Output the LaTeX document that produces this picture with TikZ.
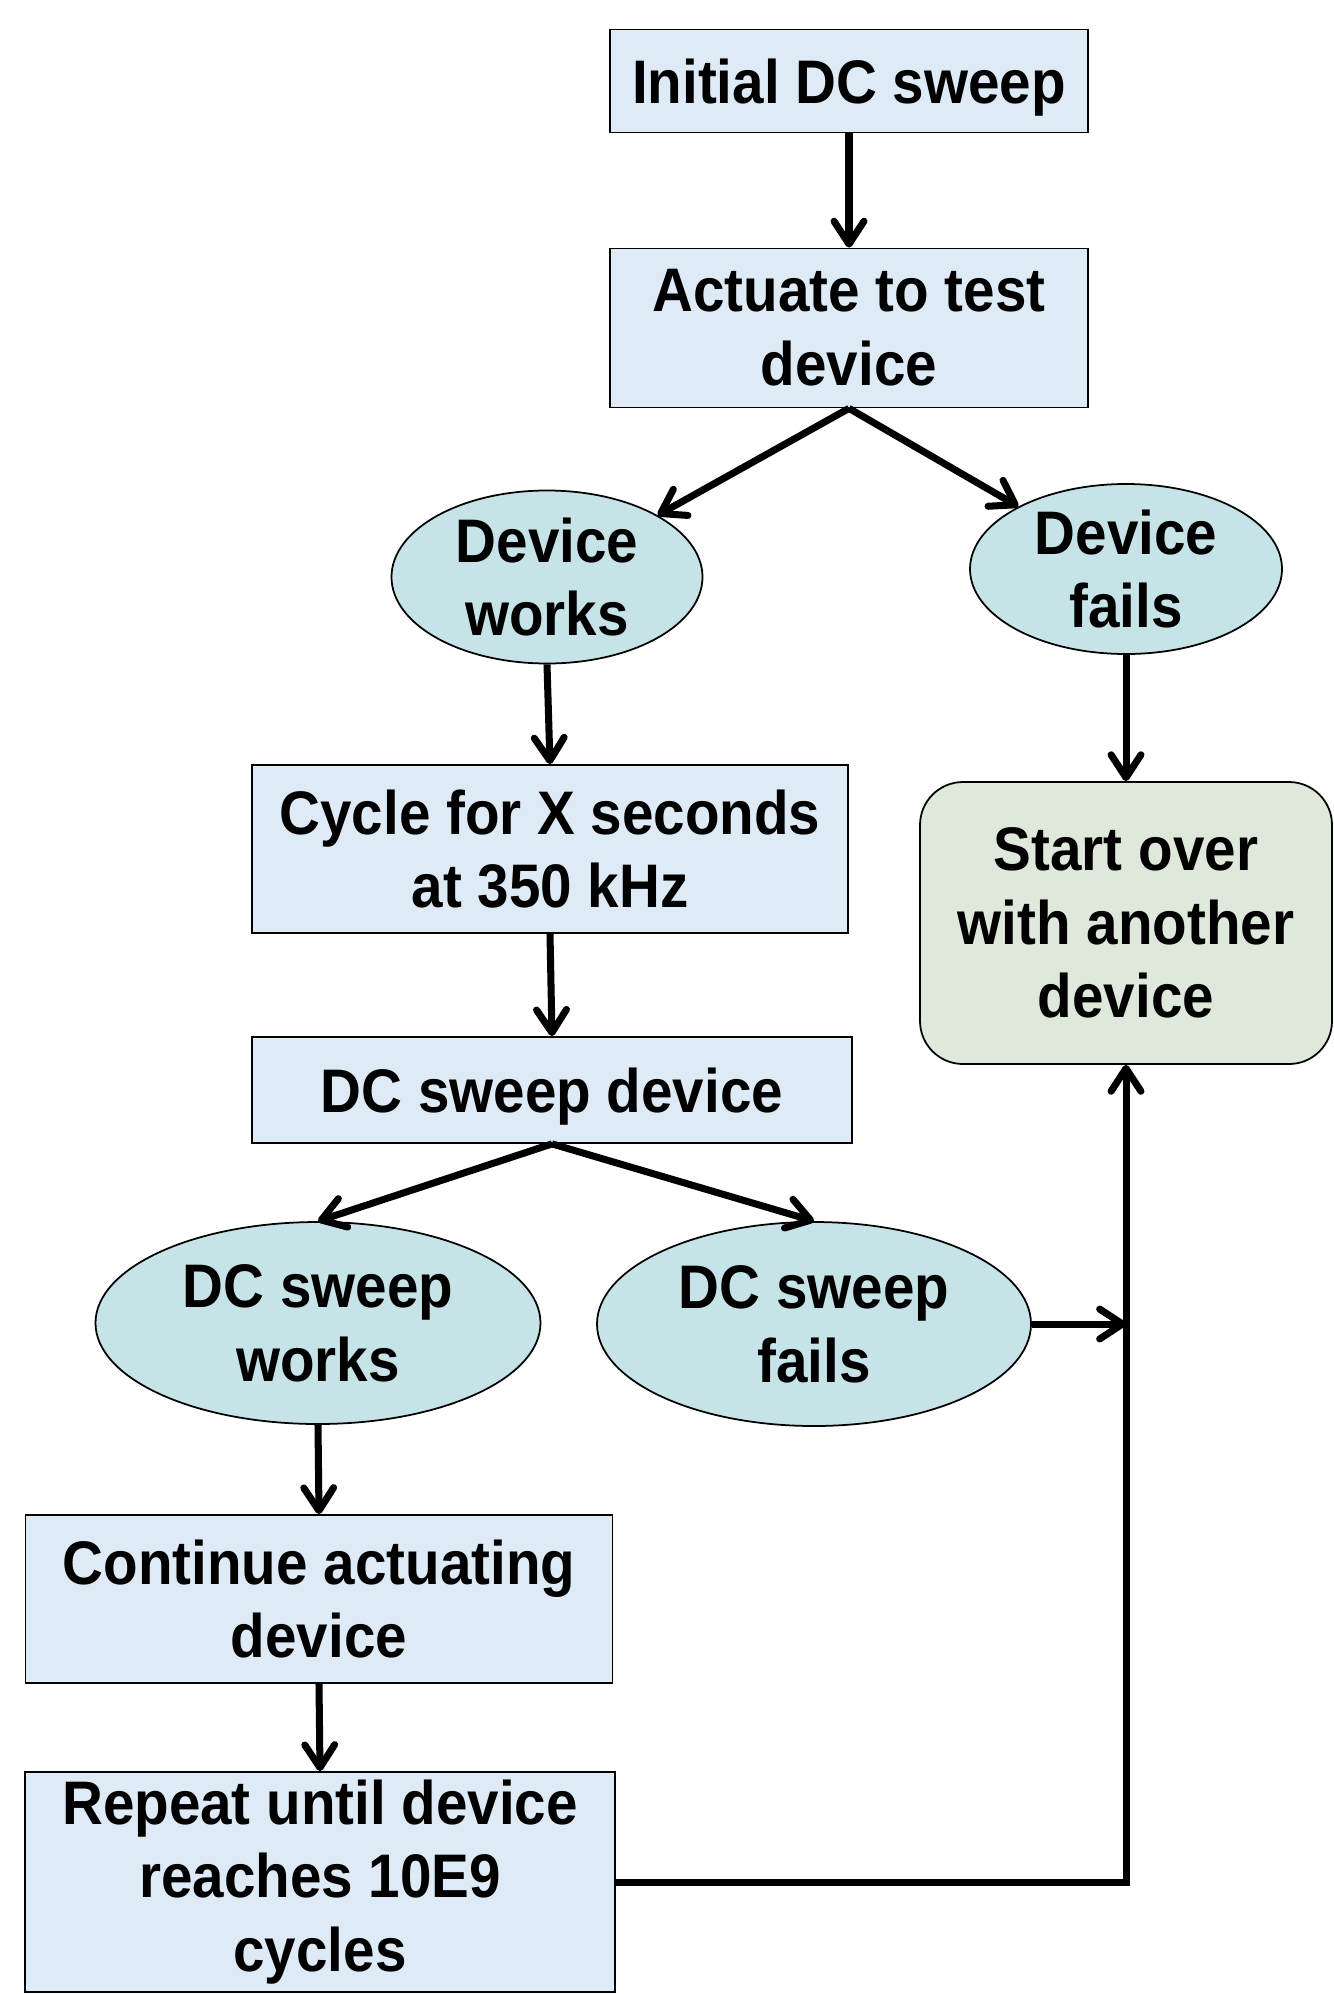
\documentclass[tikz,border=0pt]{standalone}
\usepackage{fontspec}
\setmainfont{Liberation Sans}[FakeStretch=0.92]
\usetikzlibrary{arrows.meta,shapes.geometric}
\definecolor{boxfill}{RGB}{222,235,246}
\definecolor{ovalfill}{RGB}{198,228,231}
\definecolor{endfill}{RGB}{222,232,219}
\begin{document}
\begin{tikzpicture}[
  box/.style={draw,line width=0.5pt,fill=boxfill,align=center,inner sep=0pt},
  oval/.style={ellipse,draw,line width=0.5pt,fill=ovalfill,align=center,inner sep=0pt},
  endbox/.style={draw,line width=0.5pt,fill=endfill,rounded corners=0.43cm,align=center,inner sep=0pt},
  arr/.style={line width=2pt,-{Straight Barb[round,length=6.5pt,width=8.5pt]}},
  font=\fontsize{17.5}{21}\selectfont\bfseries]
\useasboundingbox (0,0) rectangle (13.34,-19.95);
\node[box,text depth=0pt,minimum width=4.78cm,minimum height=1.03cm] (init) at (8.49,-0.81) {Initial DC sweep};
\node[box,minimum width=4.78cm,minimum height=1.59cm] (act) at (8.49,-3.28) {Actuate to test\\device};
\node[oval,minimum width=3.11cm,minimum height=1.73cm] (works) at (5.47,-5.77) {Device\\works};
\node[oval,minimum width=3.12cm,minimum height=1.70cm] (fails) at (11.26,-5.69) {Device\\fails};
\node[box,minimum width=5.96cm,minimum height=1.68cm] (cycle) at (5.50,-8.49) {Cycle for X seconds\\at 350 kHz};
\node[box,text depth=0pt,minimum width=6.00cm,minimum height=1.06cm] (sweep) at (5.52,-10.90) {DC sweep device};
\node[oval,minimum width=4.45cm,minimum height=2.02cm] (sworks) at (3.18,-13.23) {DC sweep\\works};
\node[oval,minimum width=4.34cm,minimum height=2.04cm] (sfails) at (8.14,-13.24) {DC sweep\\fails};
\node[endbox,minimum width=4.12cm,minimum height=2.82cm] (over) at (11.26,-9.23) {Start over\\with another\\device};
\node[box,minimum width=5.87cm,minimum height=1.68cm] (cont) at (3.19,-15.99) {Continue actuating\\device};
\node[box,minimum width=5.90cm,minimum height=2.20cm] (rep) at (3.20,-18.82) {Repeat until device\\reaches 10E9\\cycles};
\coordinate (join) at (sfails.east -| over.south);
\coordinate (corner) at (rep.east -| over.south);
\draw[arr] (init.south) -- (act.north);
\draw[arr] (act.south) -- (works);
\draw[arr] (act.south) -- (fails);
\draw[arr] (works.south) -- (cycle.north);
\draw[arr] (fails.south) -- (over.north);
\draw[arr] (cycle.south) -- (sweep.north);
\draw[arr] (sweep.south) -- (sworks.north);
\draw[arr] (sweep.south) -- (sfails.north);
\draw[arr] (sworks.south) -- (cont.north);
\draw[arr] (cont.south) -- (rep.north);
\draw[arr] (sfails.east) -- (join);
\draw[arr] (rep.east) -- (corner) -- (over.south);
\end{tikzpicture}
\end{document}
